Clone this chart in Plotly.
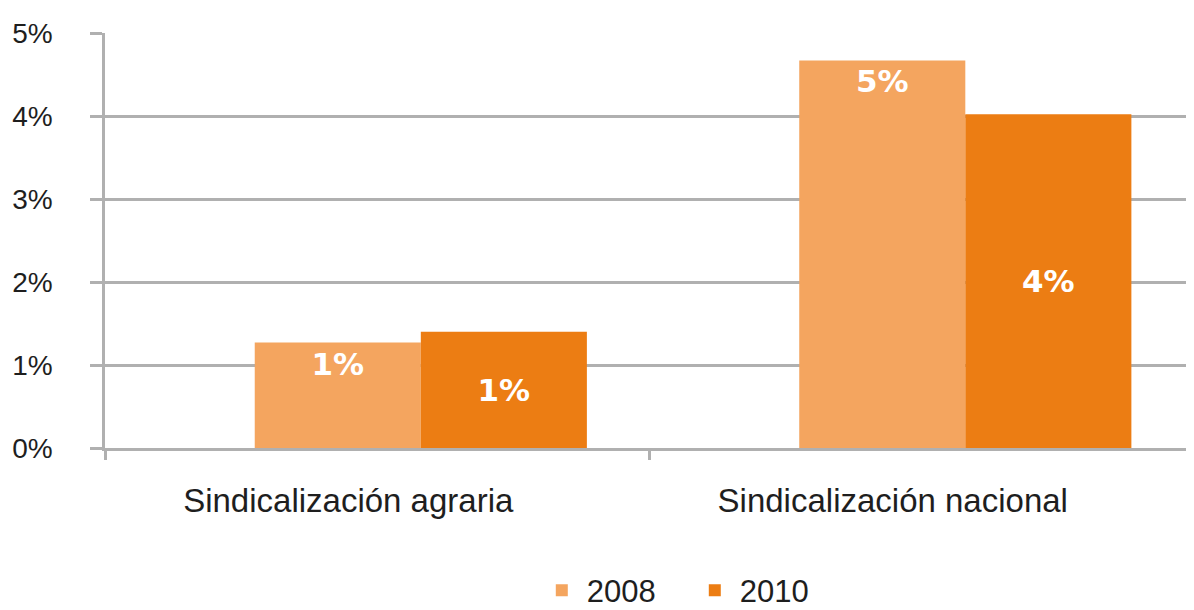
import plotly.graph_objects as go

# datos (%)
categorias = ["Sindicalización agraria", "Sindicalización nacional"]
serie_2008 = [1.27, 4.67]
serie_2010 = [1.40, 4.02]
ticks_y = [0, 1, 2, 3, 4, 5]
etiquetas_y = ["0%", "1%", "2%", "3%", "4%", "5%"]

color_2008 = "#F4A55F"
color_2010 = "#EC7D13"
gris = "#B0B0B0"
texto = "#1E1E1E"

fig = go.Figure()

# barras 2008 (etiqueta hacia arriba) y 2010 (etiqueta centrada)
fig.add_trace(go.Bar(
    x=categorias, y=serie_2008, name="2008",
    marker=dict(color=color_2008, line=dict(width=0)),
    width=0.305, offset=-0.225,
    texttemplate="%{y:.0f}%", textposition="inside", insidetextanchor="end",
    textfont=dict(family="DejaVu Sans", size=31, color="white", weight="bold"),
))
fig.add_trace(go.Bar(
    x=categorias, y=serie_2010, name="2010",
    marker=dict(color=color_2010, line=dict(width=0)),
    width=0.305, offset=0.08,
    texttemplate="%{y:.0f}%", textposition="inside", insidetextanchor="middle",
    textfont=dict(family="DejaVu Sans", size=31, color="white", weight="bold"),
))

# la página deja ~8px de margen en el body: se compensa en los márgenes
fig.update_layout(
    width=1194, height=610,
    margin=dict(l=97, r=8, t=25, b=170, autoexpand=False),
    paper_bgcolor="white", plot_bgcolor="white",
    barmode="overlay",
    font=dict(family="Liberation Sans, Arial", color=texto),
    showlegend=True,
    legend=dict(
        orientation="h", xref="paper", x=0.537, xanchor="center",
        yref="container", y=0.045, yanchor="middle",
        font=dict(size=31, color=texto),
        itemwidth=40, entrywidth=98, traceorder="normal",
    ),
)

fig.update_xaxes(
    range=[-0.5, 1.5], automargin=False,
    showline=True, linecolor=gris, linewidth=2.5,
    showgrid=False, zeroline=False,
    ticks="outside", tickson="boundaries", ticklen=9, tickwidth=2.5, tickcolor=gris,
    tickfont=dict(size=33, color=texto),
    ticklabelstandoff=22, ticklabelshift=-29,
)
fig.update_yaxes(
    range=[0, 5], automargin=False,
    tickmode="array", tickvals=ticks_y, ticktext=etiquetas_y,
    showline=True, linecolor=gris, linewidth=2.5,
    showgrid=True, gridcolor=gris, gridwidth=2.5, zeroline=False,
    ticks="outside", ticklen=12, tickwidth=2.5, tickcolor=gris,
    tickfont=dict(size=28, color=texto),
    ticklabelstandoff=32,
)

fig.write_html("out.html")
